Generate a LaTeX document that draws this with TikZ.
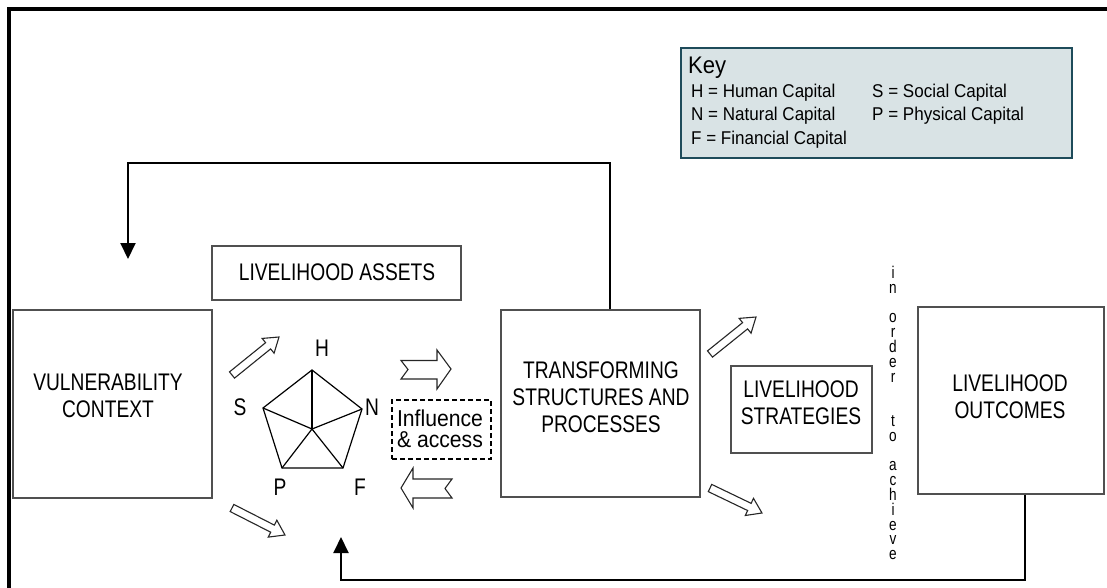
\documentclass[tikz,border=0pt]{standalone}
\usepackage{fontspec}
\setmainfont{Liberation Sans}
\newfontfamily\lblfont{Liberation Sans}[FakeStretch=0.8]
\newfontfamily\keyfont{Liberation Sans}[FakeStretch=0.92]
\usetikzlibrary{arrows.meta}
\definecolor{keyfill}{RGB}{217,227,229}
\definecolor{keyline}{RGB}{30,75,90}
\definecolor{boxline}{RGB}{80,80,80}

% hollow block arrow from tail (#1,#2) to tip (#3,#4), pixel-like units
\newcommand\hollowarrow[4]{%
  \pgfmathsetmacro\haang{atan2(-((#4)-(#2)),(#3)-(#1))}%
  \pgfmathsetmacro\halen{veclen((#3)-(#1),(#4)-(#2))}%
  \begin{scope}[shift={(#1,#2)},rotate=\haang]
    \draw[blockarrow] (0,-4) -- ({\halen-14},-4) -- ({\halen-14},-9.5) -- (\halen,0)
      -- ({\halen-14},9.5) -- ({\halen-14},4) -- (0,4) -- cycle;
  \end{scope}}

\begin{document}
\begin{tikzpicture}[x=1pt,y=-1pt,
  box/.style={draw=boxline, line width=1.1pt, inner sep=0pt},
  lbl/.style={font=\lblfont\fontsize{24}{27}\selectfont, align=center, inner sep=0pt},
  keytxt/.style={font=\keyfont\fontsize{18.5}{22}\selectfont, inner sep=0pt, anchor=base west},
  vtext/.style={font=\lblfont\fontsize{17}{14.8}\selectfont, inner sep=0pt, align=center, anchor=north},
  feedback/.style={line width=2pt, line join=miter, -{Triangle[length=16pt,width=15pt]}},
  blockarrow/.style={draw=black!85, line width=1.1pt, fill=white, line join=miter},
  pent/.style={line width=1.2pt, line join=miter}]

\useasboundingbox (0,0) rectangle (1107,588);

% outer frame (top and left edges)
\draw[line width=4pt, line join=miter] (9,588) -- (9,9) -- (1107,9);

% key
\node[draw=keyline, fill=keyfill, line width=1.6pt, anchor=north west,
      minimum width=391pt, minimum height=110pt] (key) at (680,47) {};
\node[keytxt, font=\keyfont\fontsize{24}{26}\selectfont] (keytitle) at (688,74) {Key};
\node[keytxt] (keyH) at (691,98)  {H = Human Capital};
\node[keytxt] (keyN) at (691,121) {N = Natural Capital};
\node[keytxt] (keyF) at (691,145) {F = Financial Capital};
\node[keytxt] (keyS) at (872,98)  {S = Social Capital};
\node[keytxt] (keyP) at (872,121) {P = Physical Capital};

% main boxes
\node[box, minimum width=199pt, minimum height=188pt] (vuln)     at (112.5,404) {};
\node[box, minimum width=249pt, minimum height=54pt]  (assets)   at (336.5,273) {};
\node[box, minimum width=199pt, minimum height=187pt] (transf)   at (600.5,403.5) {};
\node[box, minimum width=141pt, minimum height=87pt]  (strat)    at (801.5,409.5) {};
\node[box, minimum width=186pt, minimum height=187pt] (outcomes) at (1011,400.5) {};
\node[draw, dashed, line width=1.3pt, dash pattern=on 5pt off 3pt, inner sep=0pt,
      minimum width=99pt, minimum height=59pt] (influence) at (441.5,429.5) {};

% box labels
\node[lbl] (vulntxt)   at (108,396)  {VULNERABILITY\\CONTEXT};
\node[lbl] (assetstxt) at (337,272)  {LIVELIHOOD ASSETS};
\node[lbl] (transftxt) at (601,397)  {TRANSFORMING\\STRUCTURES AND\\PROCESSES};
\node[lbl] (strattxt)  at (801,403)  {LIVELIHOOD\\STRATEGIES};
\node[lbl] (outtxt)    at (1010,397) {LIVELIHOOD\\OUTCOMES};
\node[inner sep=0pt, align=left, font=\keyfont\fontsize{23}{21}\selectfont]
      (inftxt) at (440,429) {Influence\\\& access};

% asset pentagon
\coordinate (pc) at (312,429);
\coordinate (pH) at (312,370);
\coordinate (pN) at (362,409);
\coordinate (pF) at (343,468);
\coordinate (pP) at (282,468);
\coordinate (pS) at (263,408);
\draw[pent] (pH) -- (pN) -- (pF) -- (pP) -- (pS) -- cycle;
\foreach \v in {pH,pN,pF,pP,pS} \draw[pent] (pc) -- (\v);
\node[lbl] (lH) at (322,348) {H};
\node[lbl] (lS) at (240,407) {S};
\node[lbl] (lN) at (372,407) {N};
\node[lbl] (lP) at (280,487) {P};
\node[lbl] (lF) at (360,487) {F};

% block arrows
\hollowarrow{232}{375}{279}{337}
\hollowarrow{232}{508}{285}{535}
\hollowarrow{710}{354}{756}{317}
\hollowarrow{710}{488}{762}{513}
\draw[blockarrow] (401,360.5) -- (437,360.5) -- (437,350) -- (451,369) -- (437,389)
  -- (437,379) -- (401,379) -- (408,369.5) -- cycle;
\draw[blockarrow] (401,488) -- (413,468) -- (413,479) -- (452,479) -- (445,488.5)
  -- (452,498) -- (413,498) -- (413,508) -- cycle;

% "in order to achieve", one letter per line
\node[vtext] (inorder) at (893,266) {i\\n\\\mbox{}\\o\\r\\d\\e\\r\\\mbox{}\\\mbox{}\\t\\o\\\mbox{}\\a\\c\\h\\i\\e\\v\\e};

% feedback loops
\coordinate (fbtop) at (128,163);
\coordinate (vulnin) at (128,259);
\draw[feedback] ([xshift=9.5pt]transf.north) |- (fbtop) -- (vulnin);
\coordinate (fbbottom) at (341,580);
\coordinate (assetsin) at (341,537);
\draw[feedback] ([xshift=14pt]outcomes.south) |- (fbbottom) -- (assetsin);

\end{tikzpicture}
\end{document}
